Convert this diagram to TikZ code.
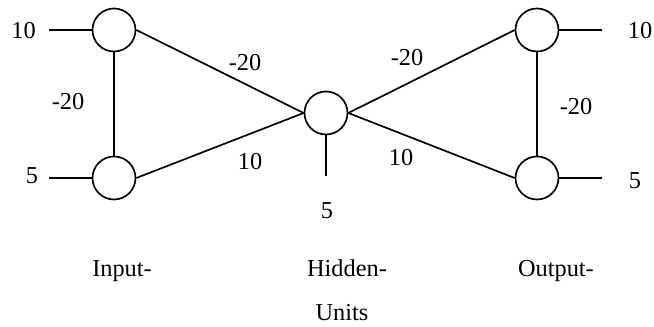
\documentclass[tikz,border=0pt]{standalone}
\usepackage{fontspec}
\setmainfont{Liberation Serif}
\usetikzlibrary{positioning}
\newlength{\pxu}
\setlength{\pxu}{0.025cm}
\tikzset{
  unit/.style={draw,circle,line width=1.2pt,minimum size=43\pxu,inner sep=0pt},
  wire/.style={line width=1.2pt},
  lbl/.style={font=\fontsize{17.3}{20}\selectfont,inner sep=1pt},
  layername/.style={lbl,anchor=base},
}

\begin{document}
\begin{tikzpicture}[x=0.025cm,y=-0.025cm]
  \useasboundingbox (0,0) rectangle (654,327);

  % Units
  \node[unit] (IN1)  at (114,30)  {};
  \node[unit] (IN2)  at (114,178) {};
  \node[unit] (HID)  at (326,113) {};
  \node[unit] (OUT1) at (537,30)  {};
  \node[unit] (OUT2) at (537,178) {};

  % External inputs and outputs
  \coordinate (a1) at (49,30);
  \coordinate (a2) at (49,178);
  \coordinate (b1) at (602,30);
  \coordinate (b2) at (602,178);
  \coordinate (h0) at (326,176);
  \node[lbl] (ext1) at (23.5,31) {10};
  \node[lbl] (ext2) at (32,176)  {5};
  \node[lbl] (ext3) at (640,31)  {10};
  \node[lbl] (ext4) at (635,181) {5};
  \node[lbl] (ext5) at (327,211) {5};

  \draw[wire] (a1) -- (IN1.west);
  \draw[wire] (a2) -- (IN2.west);
  \draw[wire] (OUT1.east) -- (b1);
  \draw[wire] (OUT2.east) -- (b2);
  \draw[wire] (HID.south) -- (h0);

  % Weights
  \draw[wire] (IN1.south) -- (IN2.north);
  \draw[wire] (IN1.east) -- (HID.west);
  \draw[wire] (IN2.east) -- (HID.west);
  \draw[wire] (HID.east) -- (OUT1.west);
  \draw[wire] (HID.east) -- (OUT2.west);
  \draw[wire] (OUT1.south) -- (OUT2.north);

  \node[lbl] (w1) at (68,102)  {-20};
  \node[lbl] (w2) at (245,63)  {-20};
  \node[lbl] (w3) at (250,162) {10};
  \node[lbl] (w4) at (407,58)  {-20};
  \node[lbl] (w5) at (401,158) {10};
  \node[lbl] (w6) at (576,107) {-20};

  % Layer names
  \node[layername] (lin)  at (122,277) {Input-};
  \node[layername] (lhid) at (347,277) {Hidden-};
  \node[layername] (lout) at (556,277) {Output-};
  \node[layername] (lunits) at (342,321) {Units};
\end{tikzpicture}
\end{document}
